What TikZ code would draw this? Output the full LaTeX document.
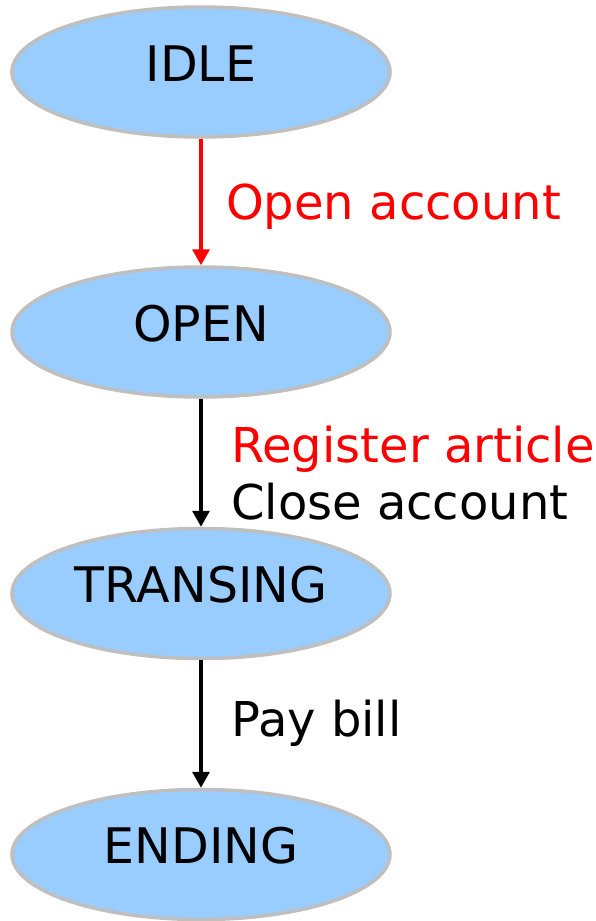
\documentclass[tikz,border=0pt]{standalone}
\usepackage{fontspec}
\setmainfont{DejaVu Sans}
\usetikzlibrary{shapes.geometric,arrows.meta}
\definecolor{statefill}{RGB}{153,204,255}
\definecolor{stateline}{RGB}{191,191,191}
\definecolor{evred}{RGB}{255,0,0}
\tikzset{
  state/.style={ellipse, draw=stateline, line width=3.5pt, fill=statefill,
    minimum width=378pt, minimum height=130pt, inner sep=0pt,
    text height=36pt, text depth=18pt,
    font=\fontsize{49}{56}\selectfont},
  trans/.style={line width=3.5pt, -{Triangle[length=16pt,width=17pt]}},
  evlabel/.style={anchor=base west, inner sep=0pt,
    font=\fontsize{48}{56}\selectfont}
}
\begin{document}
\begin{tikzpicture}[x=1pt,y=-1pt]
  \useasboundingbox (0,0) rectangle (596,921);
  % states
  \node[state] (idle)  at (201,72)    {IDLE};
  \node[state] (open)  at (201,332)   {OPEN};
  \node[state] (trans) at (201,593.5) {TRANSING};
  \node[state] (end)   at (201,854.5) {ENDING};
  % transitions
  \draw[trans, evred] (idle.south) -- (open.north);
  \draw[trans] (open.south) -- (trans.north);
  \draw[trans] (trans.south) -- (end.north);
  % events
  \node[evlabel, text=evred] (l1) at (226,219) {Open account};
  \node[evlabel, text=evred] (l2) at (231,462) {Register article};
  \node[evlabel] (l3) at (231,519) {Close account};
  \node[evlabel] (l4) at (231,736) {Pay bill};
\end{tikzpicture}
\end{document}
